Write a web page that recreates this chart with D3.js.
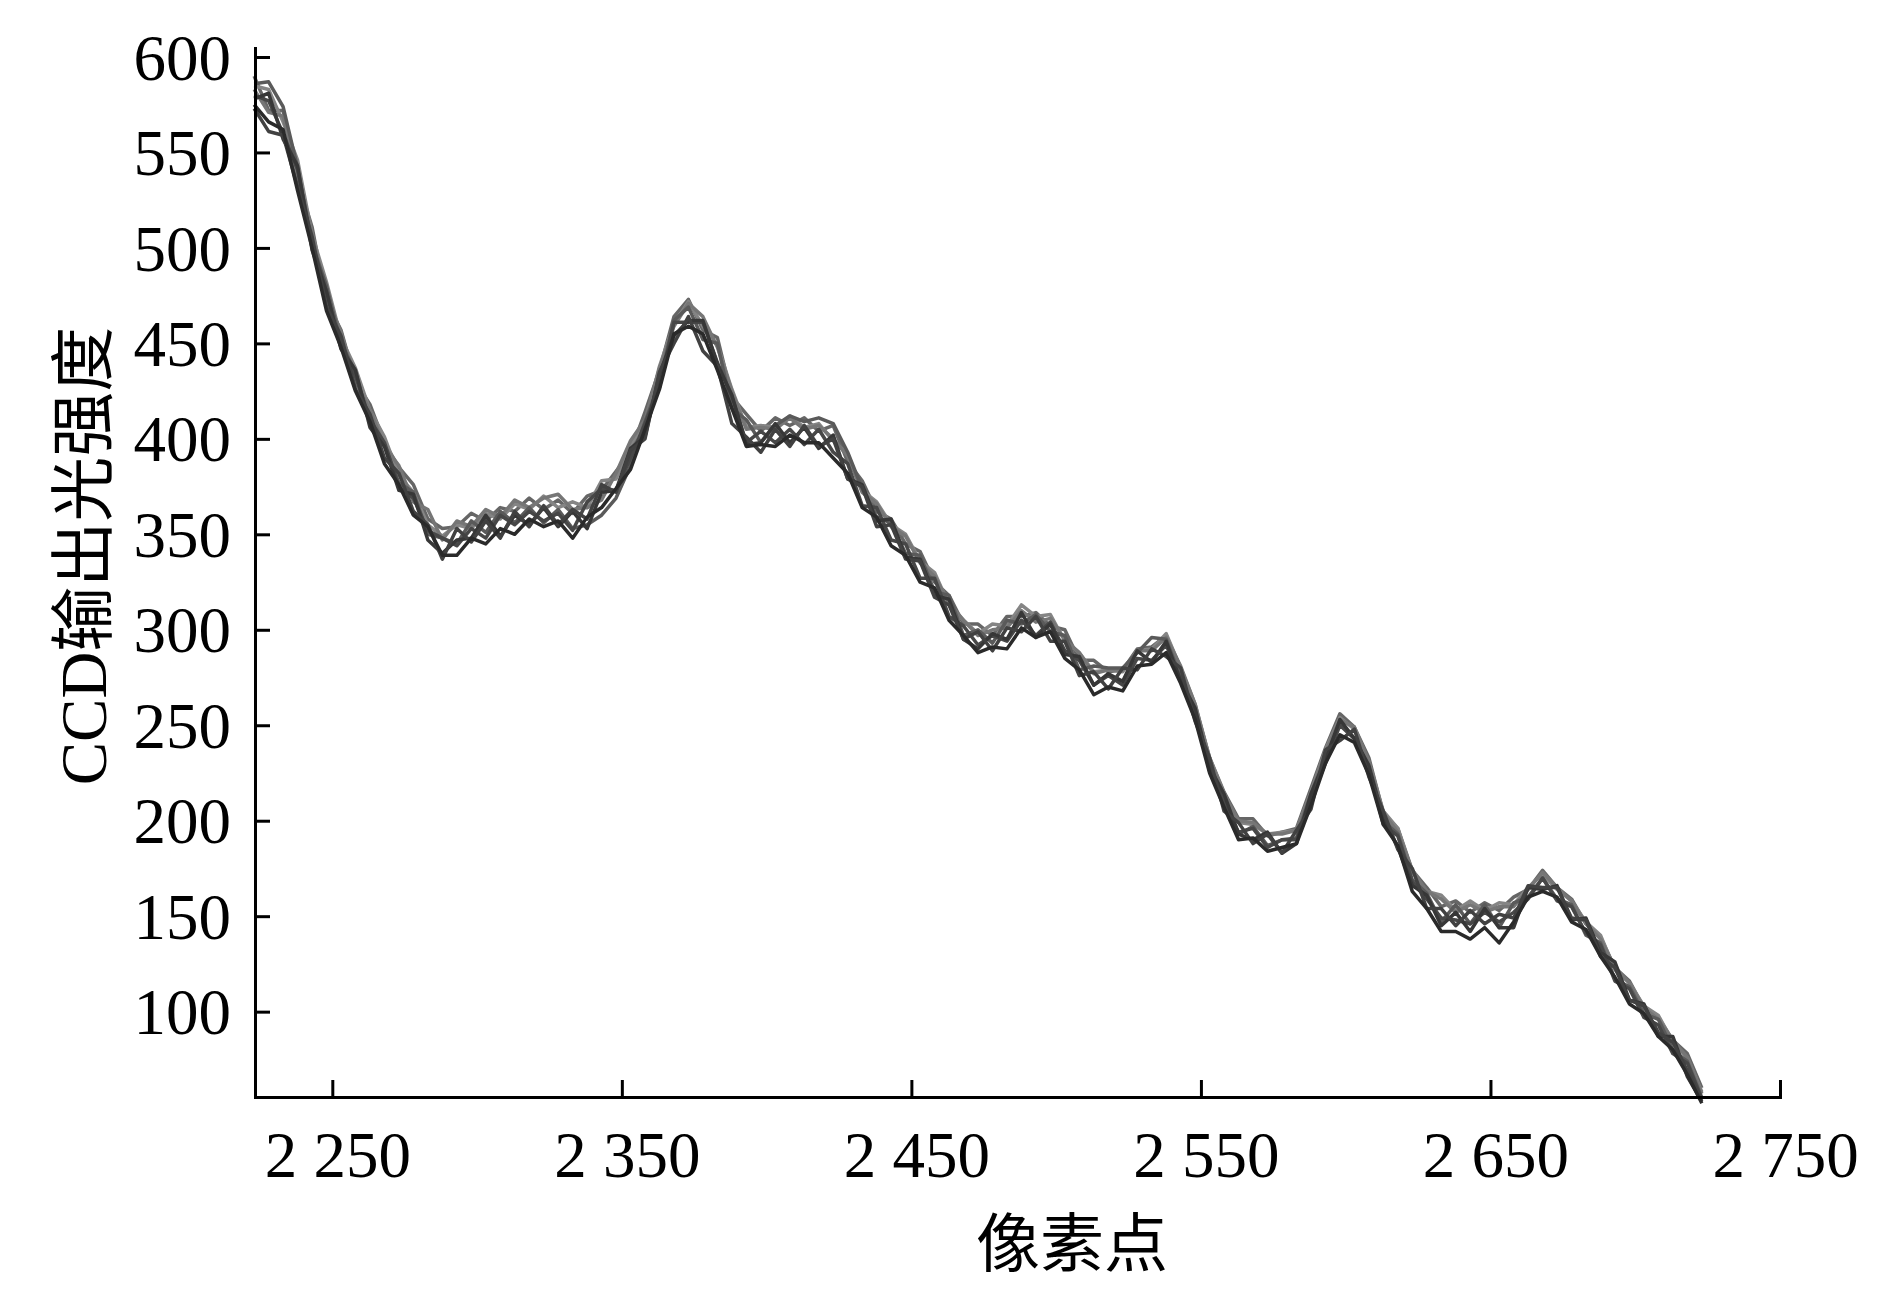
<!DOCTYPE html>
<html>
<head>
<meta charset="utf-8">
<title>CCD输出光强度</title>
<script src="https://cdn.jsdelivr.net/npm/d3@7"></script>
<style>
  html, body { margin: 0; padding: 0; background: #fff; }
  svg { display: block; }
  .axis text, .label {
    font-family: "Liberation Serif", "Times New Roman", "Noto Sans CJK SC", serif;
    fill: #000;
  }
  .axis path, .axis line { stroke: #000; stroke-width: 3px; }
  .trace { fill: none; stroke-width: 3.5px; stroke-linejoin: round; }
</style>
</head>
<body>
<div id="chart"></div>
<script>
// sampled pixel positions (every 5th pixel from 2223 to 2723)
const pixelStart = 2223;
const pixelEnd = 2723;
const pixelStep = 5;

const xTicks = [2250, 2350, 2450, 2550, 2650, 2750];
const yTicks = [100, 150, 200, 250, 300, 350, 400, 450, 500, 550, 600];

// repeated CCD readings, one array per exposure
const series1 = [
  578, 581, 557, 543, 499, 477, 447, 436, 406, 396,
  373, 371, 347, 340, 347, 348, 360, 349, 360, 355,
  364, 354, 362, 353, 372, 373, 395, 401, 434, 454,
  462, 462, 439, 423, 397, 398, 408, 398, 406, 395,
  402, 379, 376, 357, 358, 338, 337, 318, 316, 295,
  290, 298, 295, 309, 296, 303, 287, 286, 271, 277,
  273, 289, 283, 294, 273, 259, 228, 214, 193, 190,
  194, 183, 188, 214, 232, 253, 243, 229, 201, 186,
  166, 161, 145, 152, 142, 154, 144, 144, 165, 164,
  166, 148, 149, 131, 126, 106, 104, 87, 87, 66,
  53
];
const series2 = [
  590, 572, 572, 536, 511, 472, 457, 430, 418, 398,
  385, 376, 358, 353, 354, 361, 357, 364, 362, 369,
  363, 368, 361, 370, 373, 383, 393, 414, 436, 464,
  473, 457, 453, 422, 413, 404, 411, 407, 411, 404,
  407, 388, 378, 362, 358, 345, 341, 325, 318, 303,
  303, 297, 307, 307, 309, 302, 300, 284, 284, 278,
  279, 290, 291, 297, 280, 260, 233, 215, 201, 201,
  192, 194, 196, 217, 238, 256, 249, 233, 204, 196,
  174, 165, 155, 158, 152, 157, 153, 160, 164, 174,
  165, 159, 146, 139, 123, 116, 102, 97, 85, 78,
  60
];
const series3 = [
  575, 566, 562, 530, 500, 467, 448, 425, 409, 387,
  376, 360, 354, 339, 339, 348, 345, 353, 350, 358,
  354, 357, 348, 359, 364, 374, 384, 405, 426, 455,
  459, 455, 436, 416, 396, 397, 396, 402, 398, 398,
  390, 382, 364, 359, 344, 339, 325, 322, 305, 297,
  288, 291, 290, 301, 296, 299, 285, 279, 266, 270,
  268, 281, 282, 288, 272, 253, 225, 207, 190, 191,
  184, 186, 188, 208, 230, 245, 241, 224, 198, 187,
  163, 154, 142, 142, 138, 144, 136, 147, 160, 163,
  160, 147, 143, 129, 118, 104, 99, 87, 80, 67,
  52
];
const series4 = [
  585, 583, 566, 546, 507, 482, 453, 437, 415, 401,
  381, 372, 355, 349, 355, 353, 361, 358, 366, 363,
  370, 364, 367, 364, 378, 379, 397, 408, 438, 460,
  472, 459, 449, 426, 406, 407, 406, 412, 406, 408,
  399, 392, 373, 367, 355, 350, 336, 330, 313, 305,
  298, 303, 302, 313, 307, 308, 294, 288, 278, 279,
  278, 289, 290, 298, 280, 261, 233, 214, 199, 198,
  193, 194, 195, 215, 237, 254, 248, 231, 205, 196,
  173, 163, 161, 153, 158, 153, 157, 156, 165, 172,
  164, 158, 147, 140, 122, 115, 103, 98, 84, 76,
  58
];
const series5 = [
  586, 587, 574, 542, 502, 480, 450, 435, 408, 397,
  377, 372, 350, 348, 345, 357, 351, 362, 356, 364,
  356, 363, 353, 355, 360, 369, 386, 409, 429, 462,
  469, 452, 450, 416, 410, 398, 407, 412, 409, 411,
  408, 393, 374, 359, 356, 340, 339, 320, 318, 297,
  300, 293, 305, 303, 308, 299, 297, 279, 281, 280,
  280, 288, 296, 295, 275, 258, 227, 211, 193, 197,
  187, 190, 191, 214, 233, 251, 243, 228, 200, 193,
  169, 162, 147, 156, 146, 156, 144, 157, 160, 170,
  159, 156, 140, 136, 117, 113, 99, 96, 80, 74,
  55
];
const series6 = [
  573, 561, 559, 532, 506, 469, 454, 426, 413, 390,
  382, 362, 355, 337, 353, 346, 357, 348, 362, 354,
  365, 355, 363, 358, 376, 372, 394, 400, 435, 450,
  464, 446, 438, 408, 401, 393, 405, 396, 407, 396,
  400, 379, 375, 354, 355, 337, 336, 317, 313, 295,
  299, 289, 301, 299, 307, 294, 294, 276, 278, 269,
  280, 279, 290, 286, 280, 252, 233, 205, 199, 188,
  193, 183, 195, 206, 237, 242, 248, 223, 205, 185,
  175, 154, 154, 145, 153, 146, 151, 149, 166, 165,
  165, 149, 148, 129, 123, 106, 103, 89, 84, 69,
  54
];
const series7 = [
  583, 571, 569, 538, 508, 474, 456, 430, 415, 396,
  386, 367, 363, 347, 357, 354, 363, 359, 368, 364,
  369, 371, 363, 364, 368, 382, 399, 410, 437, 459,
  471, 464, 448, 425, 405, 406, 405, 411, 405, 407,
  400, 391, 372, 366, 354, 349, 335, 328, 314, 305,
  297, 300, 301, 310, 304, 306, 295, 288, 277, 279,
  279, 289, 289, 296, 281, 261, 232, 214, 200, 199,
  193, 193, 195, 214, 236, 253, 249, 231, 204, 194,
  174, 163, 159, 152, 156, 152, 155, 155, 164, 173,
  165, 158, 146, 138, 123, 115, 102, 96, 85, 76,
  57
];
const series8 = [
  580, 577, 560, 541, 502, 477, 448, 433, 410, 398,
  375, 369, 352, 348, 344, 353, 348, 360, 355, 362,
  357, 361, 352, 367, 374, 373, 390, 408, 427, 461,
  461, 461, 440, 422, 398, 404, 398, 405, 397, 405,
  393, 387, 365, 364, 347, 345, 327, 327, 307, 302,
  292, 297, 294, 305, 297, 304, 289, 284, 271, 276,
  271, 285, 284, 292, 274, 257, 226, 210, 194, 196,
  186, 190, 190, 211, 230, 250, 243, 227, 198, 192,
  168, 159, 149, 148, 146, 152, 147, 152, 159, 170,
  158, 155, 141, 135, 116, 112, 97, 93, 78, 73,
  54
];

const allSeries = [series2, series4, series7, series5, series8, series1, series6, series3];
const traceColors = ['#666666', '#858585', '#767676', '#5a5a5a', '#474747', '#373737', '#414141', '#2a2a2a'];

// dimensions
const width = 1890;
const height = 1299;
const plotLeft = 255;
const plotRight = 1780;
const plotTop = 48;
const plotBottom = 1097;

const $svg = d3.select('#chart').append('svg')
  .attr('width', width)
  .attr('height', height);

const pixels = d3.range(pixelStart, pixelEnd + 1, pixelStep);

const scaleX = d3.scaleLinear().domain([2223.3, 2750]).range([plotLeft, plotRight]);
const scaleY = d3.scaleLinear().domain([55.3, 604.7]).range([plotBottom, plotTop]);

// traces
const line = d3.line()
  .x((d, i) => scaleX(pixels[i]))
  .y(d => scaleY(d));

$svg.append('g').attr('class', 'g-vis')
  .selectAll('path')
  .data(allSeries)
  .join('path')
  .attr('class', 'trace')
  .attr('stroke', (d, i) => traceColors[i])
  .attr('d', line);

// x axis, ticks pointing inward
const fmtPixel = d => String(d).replace(/^(\d)/, '$1 ');
const $xAxis = $svg.append('g')
  .attr('class', 'axis axis-x')
  .attr('transform', `translate(0,${plotBottom})`)
  .call(d3.axisBottom(scaleX).tickValues(xTicks).tickSizeInner(-17).tickSizeOuter(0).tickFormat(fmtPixel));
$xAxis.selectAll('text')
  .attr('y', 80)
  .attr('dy', 0)
  .attr('dx', 5)
  .style('font-size', '65px');

// y axis
const $yAxis = $svg.append('g')
  .attr('class', 'axis axis-y')
  .attr('transform', `translate(${plotLeft},0)`)
  .call(d3.axisLeft(scaleY).tickValues(yTicks).tickSizeInner(-15).tickSizeOuter(0));
$yAxis.selectAll('text')
  .attr('x', -24)
  .attr('dy', '0.34em')
  .style('font-size', '65px');
$svg.selectAll('.axis .domain').attr('stroke-linecap', 'square');

// axis titles
$svg.append('text')
  .attr('class', 'label')
  .attr('x', 1072)
  .attr('y', 1266)
  .attr('text-anchor', 'middle')
  .style('font-size', '64px')
  .text('像素点');

$svg.append('text')
  .attr('class', 'label')
  .attr('transform', 'translate(106,556) rotate(-90)')
  .attr('text-anchor', 'middle')
  .style('font-size', '65px')
  .text('CCD输出光强度');
</script>
</body>
</html>
